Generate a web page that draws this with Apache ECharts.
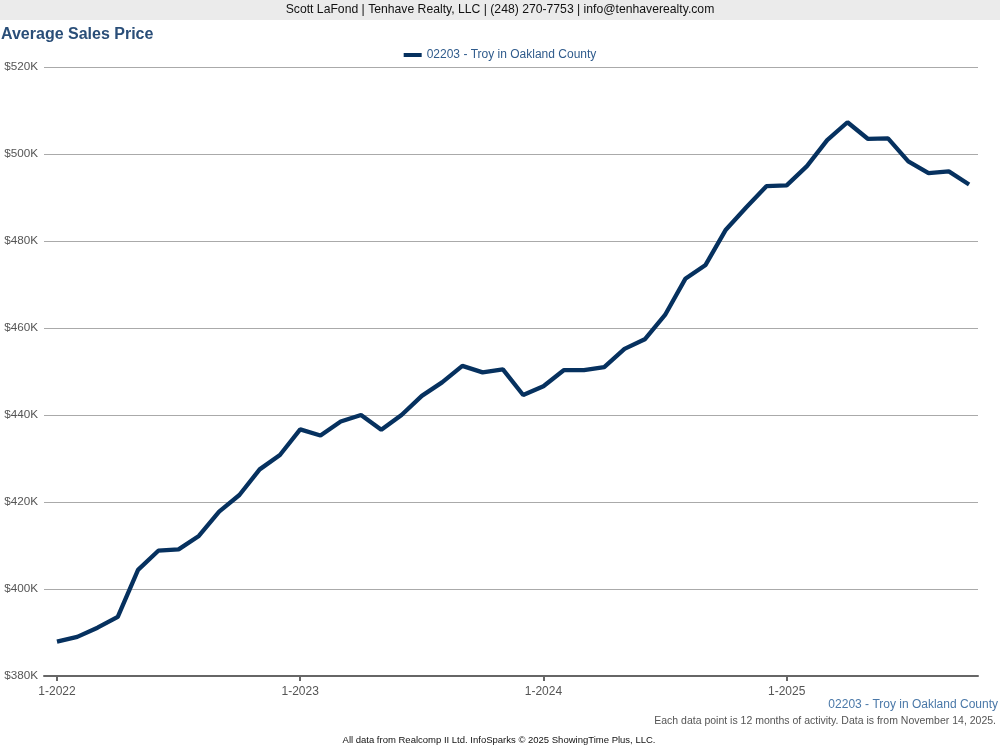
<!DOCTYPE html>
<html>
<head>
<meta charset="utf-8">
<script src="https://cdn.jsdelivr.net/npm/echarts@6/dist/echarts.min.js"></script>
<style>html,body{margin:0;padding:0;background:#fff}#c{width:1000px;height:750px}</style>
</head>
<body>
<div id="c"></div>
<script>
var categories = ["1-2022","2-2022","3-2022","4-2022","5-2022","6-2022","7-2022","8-2022","9-2022","10-2022","11-2022","12-2022",
"1-2023","2-2023","3-2023","4-2023","5-2023","6-2023","7-2023","8-2023","9-2023","10-2023","11-2023","12-2023",
"1-2024","2-2024","3-2024","4-2024","5-2024","6-2024","7-2024","8-2024","9-2024","10-2024","11-2024","12-2024",
"1-2025","2-2025","3-2025","4-2025","5-2025","6-2025","7-2025","8-2025","9-2025","10-2025"];
var seriesName = "02203 - Troy in Oakland County";
var avgPrice = [387900,389000,391100,393600,404400,408800,409100,412200,417800,421600,427500,430800,
436700,435300,438500,440000,436600,440000,444400,447500,451300,449800,450500,444600,
446600,450300,450300,451000,455200,457400,463000,471300,474500,482600,487700,492600,
492800,497200,503200,507300,503500,503600,498300,495600,496000,493000];
var labelIdx = [0,12,24,36];
var yTicks = {min:380000, max:520000, interval:20000};

var font = '"Liberation Sans", Arial, sans-serif';
var chart = echarts.init(document.getElementById('c'));
var data = avgPrice.map(function(v,i){return [i,v];});
chart.setOption({
  animation:false,
  textStyle:{fontFamily:font},
  graphic:[
    {type:'rect',shape:{x:0,y:0,width:1000,height:20},style:{fill:'#ebebeb'},silent:true},
    {type:'text',x:500,y:10,style:{text:'Scott LaFond | Tenhave Realty, LLC | (248) 270-7753 | info@tenhaverealty.com',fill:'#111',font:'12.2px '+font,textAlign:'center',textVerticalAlign:'middle'}},
    {type:'text',x:1,y:35,style:{text:'Average Sales Price',fill:'#2a4e78',font:'bold 16px '+font,textAlign:'left',textVerticalAlign:'middle'}},
    {type:'text',x:998,y:705,style:{text:seriesName,fill:'#4a78a8',font:'12px '+font,textAlign:'right',textVerticalAlign:'middle'}},
    {type:'text',x:996,y:721,style:{text:'Each data point is 12 months of activity. Data is from November 14, 2025.',fill:'#555',font:'10.5px '+font,textAlign:'right',textVerticalAlign:'middle'}},
    {type:'text',x:499,y:740,style:{text:'All data from Realcomp II Ltd. InfoSparks \u00a9 2025 ShowingTime Plus, LLC.',fill:'#111',font:'9.5px '+font,textAlign:'center',textVerticalAlign:'middle'}}
  ],
  legend:{top:44,left:'center',itemWidth:18,itemHeight:4,itemGap:6,icon:'rect',
    textStyle:{color:'#2f5b8c',fontSize:12,fontFamily:font},data:[seriesName]},
  grid:{left:44,right:22,top:67,bottom:74,containLabel:false},
  xAxis:{type:'value',min:-0.64,max:45.44,
    axisLine:{show:true,lineStyle:{color:'#666',width:2}},
    axisTick:{show:true,customValues:labelIdx,length:5,lineStyle:{color:'#666',width:2}},
    axisLabel:{customValues:labelIdx,color:'#555',fontSize:12,margin:10,formatter:function(v){return categories[Math.round(v)]||'';}},
    splitLine:{show:false}},
  yAxis:{type:'value',min:yTicks.min,max:yTicks.max,interval:yTicks.interval,
    axisLine:{show:false},axisTick:{show:false},
    axisLabel:{color:'#555',fontSize:11.7,margin:6,padding:[5,0,0,0],formatter:function(v){return '$'+(v/1000)+'K';}},
    splitLine:{lineStyle:{color:'#aaa',width:1}}},
  series:[{name:seriesName,type:'line',data:data,showSymbol:false,symbol:'none',
    lineStyle:{color:'#06315f',width:4.3},itemStyle:{color:'#06315f'}}]
});
</script>
</body>
</html>
